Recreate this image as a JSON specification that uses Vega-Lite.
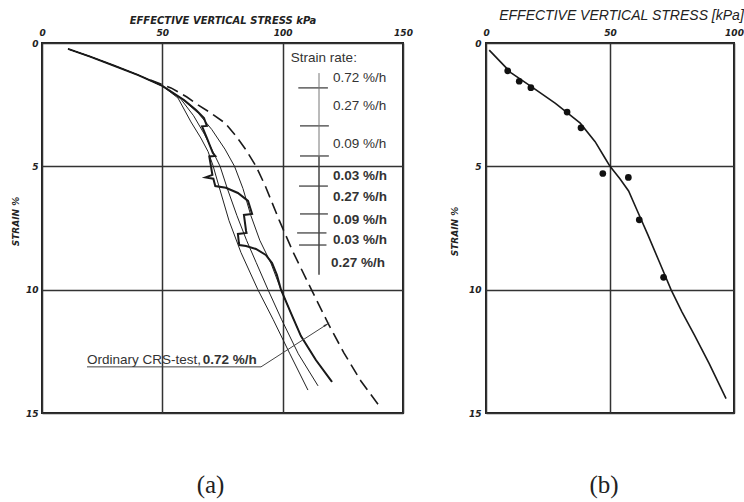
{
"$schema": "https://vega.github.io/schema/vega-lite/v6.json",
"background": "white",
"padding": {"left": 10, "top": 7, "right": 0, "bottom": 0},
"bounds": "flush",
"spacing": 83,
"config": {
  "view": {"stroke": "#222", "strokeWidth": 2},
  "axis": {"domain": false, "ticks": false, "grid": true, "gridColor": "#333", "gridWidth": 1.5, "gridOpacity": 1,
    "labelFont": "DejaVu Sans", "labelFontStyle": "italic", "labelFontWeight": "bold", "labelFontSize": 9, "labelColor": "#222",
    "titleFont": "DejaVu Sans", "titleFontStyle": "italic", "titleFontWeight": "bold", "titleFontSize": 9, "titleColor": "#222"},
  "title": {"font": "Liberation Serif", "fontSize": 25, "fontWeight": "normal", "color": "#222"}
},
"datasets": {
  "thin": [
    {"c":1,"i":1,"s":10.8,"e":0.24},{"c":1,"i":2,"s":20,"e":0.55},{"c":1,"i":3,"s":30,"e":0.92},{"c":1,"i":4,"s":40,"e":1.3},{"c":1,"i":5,"s":50,"e":1.74},{"c":1,"i":6,"s":56.5,"e":2.23},{"c":1,"i":7,"s":61.9,"e":3.2},{"c":1,"i":8,"s":66,"e":3.85},{"c":1,"i":9,"s":69,"e":4.4},{"c":1,"i":10,"s":71,"e":4.95},{"c":1,"i":11,"s":73.5,"e":5.8},{"c":1,"i":12,"s":77.7,"e":7.2},{"c":1,"i":13,"s":82.7,"e":8.5},{"c":1,"i":14,"s":89.7,"e":10.0},{"c":1,"i":15,"s":96,"e":11.2},{"c":1,"i":16,"s":103,"e":12.6},{"c":1,"i":17,"s":110.5,"e":14.07},
    {"c":2,"i":1,"s":10.8,"e":0.24},{"c":2,"i":2,"s":20,"e":0.55},{"c":2,"i":3,"s":30,"e":0.92},{"c":2,"i":4,"s":40,"e":1.3},{"c":2,"i":5,"s":50,"e":1.74},{"c":2,"i":6,"s":57.5,"e":2.25},{"c":2,"i":7,"s":63,"e":2.95},{"c":2,"i":8,"s":67.5,"e":3.7},{"c":2,"i":9,"s":71,"e":4.4},{"c":2,"i":10,"s":74,"e":5.0},{"c":2,"i":11,"s":77,"e":5.9},{"c":2,"i":12,"s":81,"e":7.0},{"c":2,"i":13,"s":85,"e":8.0},{"c":2,"i":14,"s":89,"e":8.9},{"c":2,"i":15,"s":93.9,"e":10.0},{"c":2,"i":16,"s":99.5,"e":11.2},{"c":2,"i":17,"s":106.5,"e":12.6},{"c":2,"i":18,"s":114.7,"e":13.9},
    {"c":3,"i":1,"s":10.8,"e":0.24},{"c":3,"i":2,"s":20,"e":0.55},{"c":3,"i":3,"s":30,"e":0.92},{"c":3,"i":4,"s":40,"e":1.3},{"c":3,"i":5,"s":50,"e":1.74},{"c":3,"i":6,"s":58,"e":2.25},{"c":3,"i":7,"s":65,"e":2.85},{"c":3,"i":8,"s":70.5,"e":3.5},{"c":3,"i":9,"s":76,"e":4.3},{"c":3,"i":10,"s":80,"e":5.0},{"c":3,"i":11,"s":83.5,"e":5.9},{"c":3,"i":12,"s":86.8,"e":7.0},{"c":3,"i":13,"s":90.5,"e":8.0},{"c":3,"i":14,"s":95.1,"e":8.92},{"c":3,"i":15,"s":99.3,"e":10.0},{"c":3,"i":16,"s":103.4,"e":10.94},{"c":3,"i":17,"s":107.6,"e":11.88},{"c":3,"i":18,"s":113.8,"e":12.85},{"c":3,"i":19,"s":120.5,"e":13.74}
  ],
  "thick": [
    {"i":1,"s":10.8,"e":0.24},{"i":2,"s":20,"e":0.55},{"i":3,"s":30,"e":0.92},{"i":4,"s":40,"e":1.3},{"i":5,"s":50,"e":1.74},{"i":6,"s":59,"e":2.31},{"i":7,"s":64,"e":2.72},{"i":8,"s":67.3,"e":3.04},{"i":9,"s":68.5,"e":3.36},{"i":10,"s":66.5,"e":3.38},{"i":11,"s":68.5,"e":3.85},{"i":12,"s":71,"e":4.46},{"i":13,"s":72,"e":4.58},{"i":14,"s":69.5,"e":4.6},{"i":15,"s":70.2,"e":4.99},{"i":16,"s":70.8,"e":5.35},{"i":17,"s":68,"e":5.45},{"i":18,"s":71.2,"e":5.5},{"i":19,"s":72,"e":5.8},{"i":20,"s":76.4,"e":5.87},{"i":21,"s":81.4,"e":6.08},{"i":22,"s":85.6,"e":6.4},{"i":23,"s":86.8,"e":6.77},{"i":24,"s":87.3,"e":6.93},{"i":25,"s":83.9,"e":6.97},{"i":26,"s":84.8,"e":7.62},{"i":27,"s":85,"e":7.7},{"i":28,"s":81.4,"e":7.74},{"i":29,"s":81.8,"e":8.1},{"i":30,"s":82,"e":8.19},{"i":31,"s":84.8,"e":8.23},{"i":32,"s":88.9,"e":8.35},{"i":33,"s":93,"e":8.59},{"i":34,"s":95.6,"e":8.92},{"i":35,"s":97.6,"e":9.4},{"i":36,"s":99.3,"e":10.0},{"i":37,"s":103.4,"e":10.94},{"i":38,"s":107.6,"e":11.88},{"i":39,"s":113.8,"e":12.85},{"i":40,"s":120.5,"e":13.74}
  ],
  "dash": [
    {"i":1,"s":45,"e":1.5},{"i":2,"s":53.6,"e":1.82},{"i":3,"s":60.2,"e":2.19},{"i":4,"s":64.8,"e":2.51},{"i":5,"s":70.2,"e":2.84},{"i":6,"s":76,"e":3.24},{"i":7,"s":80.6,"e":3.77},{"i":8,"s":84.8,"e":4.34},{"i":9,"s":88.9,"e":4.99},{"i":10,"s":92.8,"e":5.8},{"i":11,"s":98.5,"e":7.17},{"i":12,"s":104.5,"e":8.51},{"i":13,"s":111.8,"e":9.97},{"i":14,"s":119.2,"e":11.43},{"i":15,"s":125.5,"e":12.57},{"i":16,"s":132.5,"e":13.7},{"i":17,"s":140.8,"e":14.8}
  ],
  "ticks": [
    {"s":106.5,"s2":118.8,"e":1.82},{"s":107.2,"s2":119.2,"e":3.36},{"s":107.2,"s2":119.2,"e":4.58},{"s":106.8,"s2":118.8,"e":5.8},{"s":107.2,"s2":118.8,"e":6.93},{"s":106,"s2":118.2,"e":7.7},{"s":106.8,"s2":118.2,"e":8.19}
  ],
  "vrule": [
    {"part":"upper","s":115.1,"e":1.22,"e2":4.6},
    {"part":"lower","s":115.1,"e":4.6,"e2":9.4}
  ],
  "labN": [
    {"s":103.4,"e":0.61,"t":"Strain rate:"},
    {"s":120.9,"e":1.42,"t":"0.72 %/h"},
    {"s":120.9,"e":2.55,"t":"0.27 %/h"},
    {"s":120.9,"e":4.09,"t":"0.09 %/h"},
    {"s":18.7,"e":12.85,"t":"Ordinary CRS-test,"}
  ],
  "labB": [
    {"s":120.9,"e":5.39,"t":"0.03 %/h"},
    {"s":120.9,"e":6.24,"t":"0.27 %/h"},
    {"s":120.9,"e":7.17,"t":"0.09 %/h"},
    {"s":120.9,"e":7.99,"t":"0.03 %/h"},
    {"s":120.1,"e":8.92,"t":"0.27 %/h"},
    {"s":66.8,"e":12.85,"t":"0.72 %/h"}
  ],
  "leader": [
    {"i":1,"s":18.7,"e":13.13},{"i":2,"s":91,"e":13.13},{"i":3,"s":117.4,"e":11.47}
  ],
  "arrow": [{"s":118,"e":11.43}],
  "fit": [
    {"i":1,"s":1.3,"e":0.29},{"i":2,"s":10,"e":1.2},{"i":3,"s":18,"e":1.75},{"i":4,"s":28,"e":2.45},{"i":5,"s":38,"e":3.25},{"i":6,"s":44,"e":4.0},{"i":7,"s":47.6,"e":4.6},{"i":8,"s":50,"e":5.0},{"i":9,"s":54,"e":5.5},{"i":10,"s":57.5,"e":6.0},{"i":11,"s":61,"e":6.8},{"i":12,"s":65.2,"e":7.76},{"i":13,"s":70,"e":8.9},{"i":14,"s":74.6,"e":10.0},{"i":15,"s":79,"e":10.9},{"i":16,"s":84,"e":11.83},{"i":17,"s":90,"e":13.0},{"i":18,"s":96.8,"e":14.42}
  ],
  "pts": [
    {"s":8.75,"e":1.13},{"s":13.4,"e":1.55},{"s":18.1,"e":1.81},{"s":32.7,"e":2.8},{"s":38.3,"e":3.44},{"s":47.1,"e":5.29},{"s":57.4,"e":5.45},{"s":61.8,"e":7.17},{"s":71.6,"e":9.5}
  ]
},
"hconcat": [
  {
    "width": 361, "height": 370,
    "title": {"text": "(a)", "orient": "bottom", "anchor": "middle", "frame": "group", "offset": 55, "dx": -12},
    "encoding": {
      "x": {"field": "s", "type": "quantitative", "scale": {"domain": [0, 150], "nice": false},
        "axis": {"orient": "top", "values": [0, 50, 100, 150], "labelFlush": false, "labelPadding": 6, "labelDx": 3,
          "title": "EFFECTIVE VERTICAL STRESS kPa", "titleFontSize": 10, "titleY": -18}},
      "y": {"field": "e", "type": "quantitative", "scale": {"domain": [0, 15], "nice": false, "reverse": true},
        "axis": {"orient": "left", "values": [0, 5, 10, 15], "labelPadding": 4, "labelDy": 2,
          "title": "STRAIN %", "titleX": -22, "titleY": 178}}
    },
    "layer": [
      {"data": {"name": "thin"}, "mark": {"type": "line", "stroke": "#222", "strokeWidth": 1}, "encoding": {"detail": {"field": "c"}, "order": {"field": "i"}}},
      {"data": {"name": "thick"}, "mark": {"type": "line", "stroke": "#1a1a1a", "strokeWidth": 2}, "encoding": {"order": {"field": "i"}}},
      {"data": {"name": "dash"}, "mark": {"type": "line", "stroke": "#1a1a1a", "strokeWidth": 1.6, "strokeDash": [12, 6]}, "encoding": {"order": {"field": "i"}}},
      {"data": {"name": "ticks"}, "mark": {"type": "rule", "stroke": "#444", "strokeWidth": 1.3}, "encoding": {"x2": {"field": "s2"}}},
      {"data": {"name": "vrule"}, "transform": [{"filter": "datum.part == 'upper'"}], "mark": {"type": "rule", "stroke": "#777", "strokeWidth": 1}, "encoding": {"y2": {"field": "e2"}}},
      {"data": {"name": "vrule"}, "transform": [{"filter": "datum.part == 'lower'"}], "mark": {"type": "rule", "stroke": "#444", "strokeWidth": 1.5}, "encoding": {"y2": {"field": "e2"}}},
      {"data": {"name": "labN"}, "mark": {"type": "text", "align": "left", "baseline": "middle", "font": "Liberation Sans", "fontSize": 13.5, "fill": "#333"}, "encoding": {"text": {"field": "t"}}},
      {"data": {"name": "labB"}, "mark": {"type": "text", "align": "left", "baseline": "middle", "font": "Liberation Sans", "fontSize": 13.5, "fontWeight": "bold", "fill": "#333"}, "encoding": {"text": {"field": "t"}}},
      {"data": {"name": "leader"}, "mark": {"type": "line", "stroke": "#444", "strokeWidth": 1}, "encoding": {"order": {"field": "i"}}},
      {"data": {"name": "arrow"}, "mark": {"type": "point", "shape": "wedge", "angle": 58, "size": 70, "filled": true, "fill": "#333", "opacity": 1}}
    ]
  },
  {
    "width": 248, "height": 370,
    "title": {"text": "(b)", "orient": "bottom", "anchor": "middle", "frame": "group", "offset": 55, "dx": -6},
    "encoding": {
      "x": {"field": "s", "type": "quantitative", "scale": {"domain": [0, 100], "nice": false},
        "axis": {"orient": "top", "values": [0, 50, 100], "labelFlush": false, "labelPadding": 6, "labelDx": 3,
          "title": "EFFECTIVE VERTICAL STRESS [kPa]", "titleFont": "Liberation Sans", "titleFontWeight": "normal", "titleFontSize": 14, "titleX": 135, "titleY": -21}},
      "y": {"field": "e", "type": "quantitative", "scale": {"domain": [0, 15], "nice": false, "reverse": true},
        "axis": {"orient": "left", "values": [0, 5, 10, 15], "labelPadding": 5, "labelDy": 2,
          "title": "STRAIN %", "titleX": -27, "titleY": 188}}
    },
    "layer": [
      {"data": {"name": "fit"}, "mark": {"type": "line", "stroke": "#1a1a1a", "strokeWidth": 1.6}, "encoding": {"order": {"field": "i"}}},
      {"data": {"name": "pts"}, "mark": {"type": "point", "shape": "circle", "size": 45, "filled": true, "fill": "#111", "opacity": 1}}
    ]
  }
]
}
